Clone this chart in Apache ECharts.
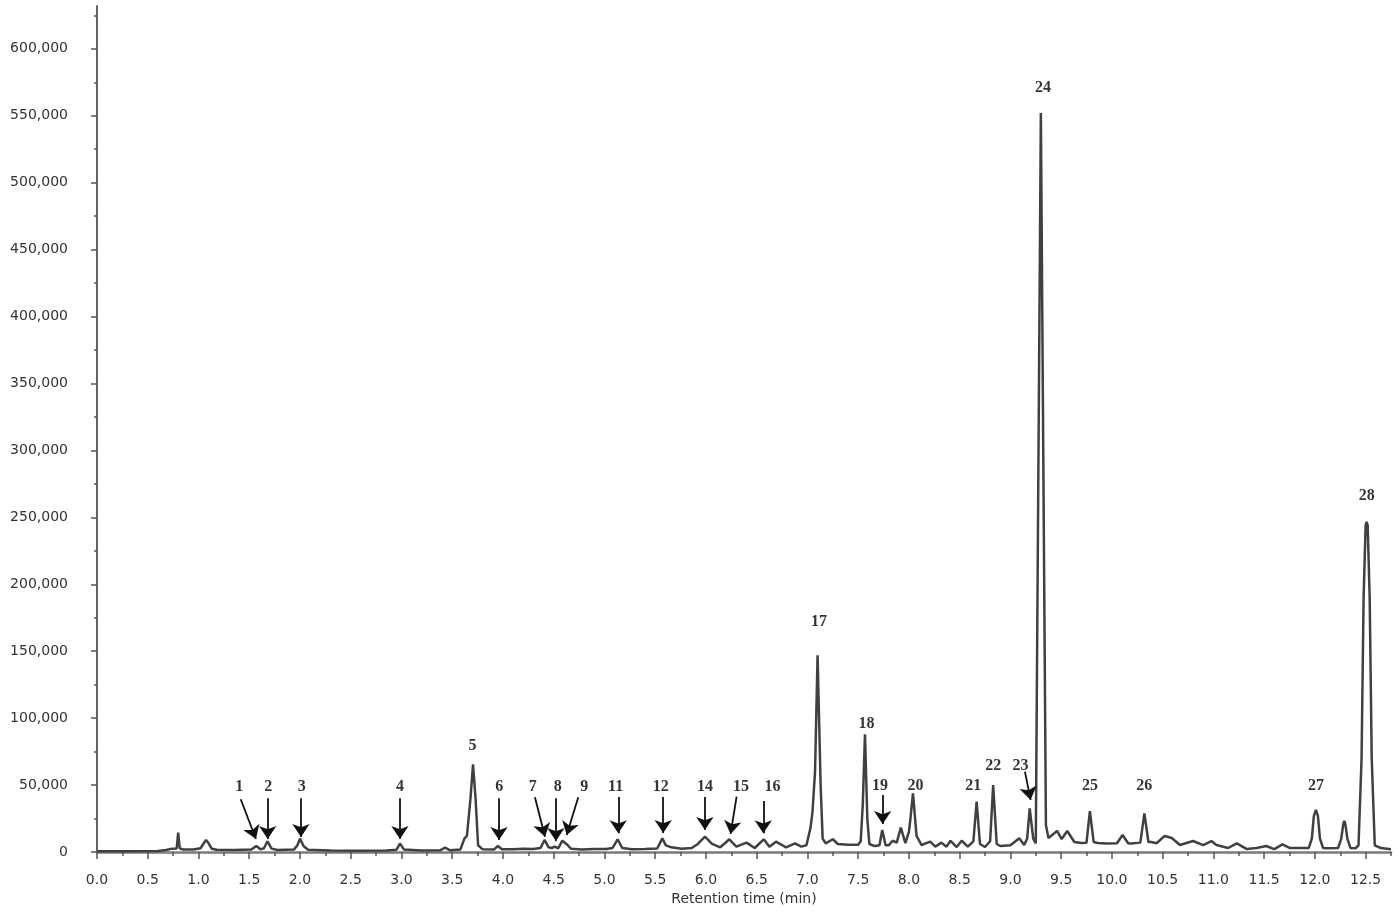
<!DOCTYPE html>
<html><head><meta charset="utf-8">
<script src="https://cdn.jsdelivr.net/npm/echarts@6/dist/echarts.min.js"></script>
<style>html,body{margin:0;padding:0;background:#fff}#c{width:1397px;height:913px}</style>
</head><body><div id="c"></div>
<script>
// Chromatogram trace (retention time in min, intensity in counts)
const retentionTime = [
 0.00,0.30,0.60,0.68,0.74,0.785,0.80,0.815,0.85,0.95,1.02,1.06,1.075,1.085,1.10,1.13,1.18,1.35,1.52,1.57,
 1.61,1.645,1.68,1.72,1.78,1.94,1.975,2.00,2.035,2.08,2.30,2.60,2.85,2.95,2.985,3.025,3.20,3.38,3.43,3.48,
 3.58,3.62,3.645,3.68,3.705,3.73,3.755,3.80,3.91,3.95,3.99,4.10,4.20,4.30,4.37,4.41,4.45,4.48,4.51,4.545,
 4.585,4.625,4.67,4.78,4.90,5.02,5.08,5.13,5.175,5.27,5.40,5.52,5.57,5.605,5.66,5.76,5.86,5.92,5.99,6.06,
 6.14,6.19,6.23,6.30,6.40,6.48,6.57,6.625,6.69,6.79,6.877,6.94,6.99,7.03,7.05,7.075,7.10,7.13,7.15,7.18,
 7.25,7.30,7.40,7.50,7.525,7.545,7.567,7.59,7.61,7.66,7.71,7.737,7.77,7.80,7.84,7.88,7.92,7.965,8.00,8.015,
 8.04,8.075,8.125,8.21,8.26,8.32,8.37,8.41,8.47,8.52,8.58,8.635,8.667,8.70,8.75,8.80,8.83,8.865,8.90,9.00,
 9.087,9.136,9.165,9.19,9.225,9.25,9.30,9.35,9.375,9.46,9.505,9.56,9.63,9.70,9.75,9.783,9.82,9.86,9.95,10.05,
 10.105,10.16,10.19,10.28,10.32,10.36,10.39,10.44,10.52,10.59,10.67,10.80,10.90,10.98,11.03,11.145,11.23,11.33,11.425,11.52,
 11.60,11.68,11.75,11.85,11.94,11.97,11.99,12.01,12.03,12.05,12.08,12.12,12.23,12.26,12.28,12.29,12.30,12.32,12.35,12.40,
 12.43,12.46,12.48,12.50,12.51,12.52,12.54,12.56,12.59,12.65,12.75
];
const intensity = [
 500,500,700,1500,2500,2700,14500,2800,1800,1800,2800,7500,9000,8000,6500,2500,1700,1500,1800,4500,
 2000,2800,8000,2500,1500,1800,5000,10000,4500,1700,1200,1000,1200,1600,6300,1800,1200,1300,3200,1300,
 1800,10000,12000,40000,65500,40000,5000,2000,1800,4500,2000,2000,2500,2200,3000,9000,3500,3000,4000,2800,
 8500,6000,2500,1800,2200,2300,3000,9500,3000,2000,2300,2600,10200,5000,3500,2500,3000,6000,11400,6000,
 3500,6700,9500,4000,7000,3000,9500,4000,7700,3500,6500,4000,5000,18000,30000,60000,147000,50000,10000,6500,
 9500,6000,5500,5500,8000,35000,88000,25000,6000,4500,5000,16400,5000,5000,8400,7000,18200,6700,15000,25000,
 43900,12000,5200,7700,4000,7000,4000,8400,3700,8400,4000,8000,37600,6000,3700,8000,50000,6000,4500,5000,
 10200,5200,10000,32600,10000,6500,552000,20000,10500,15700,9700,15700,7500,6700,7000,30600,7500,6700,6300,6500,
 12700,6500,6300,7000,28900,7500,7500,6500,12000,10500,5200,8200,5200,8200,5200,3000,6500,2200,3000,4500,
 2200,5700,3000,3000,3000,10000,27000,31400,27000,10000,3000,2800,3000,10000,21000,23200,21000,10000,3000,2800,
 5000,70000,190000,244000,246600,244000,190000,70000,5000,3000,2000
];

// Peak number labels
const peakNames = ['1','2','3','4','5','6','7','8','9','11','12','14','15','16','17','18','19','20','21','22','23','24','25','26','27','28'];
const peakLabelTime = [1.402,1.688,2.017,2.985,3.701,3.964,4.293,4.539,4.801,5.110,5.554,5.990,6.345,6.657,7.113,7.583,7.714,8.066,8.633,8.830,9.100,9.320,9.783,10.318,12.010,12.512];
const peakLabelValue = [48800,48800,48800,48800,79200,48800,48800,48800,48800,48800,48800,48800,48800,48800,172100,95400,49300,49300,49300,64500,64500,571000,49300,49300,49300,266100];

// Arrows (start below label, end at arrow tip)
const arrowStartTime  = [1.416,1.682,2.010,2.985,3.961,4.315,4.522,4.742,5.136,5.579,5.990,6.302,6.565,7.741,9.143];
const arrowStartValue = [39400,40100,40100,40100,40100,40900,40100,40900,41100,41100,41100,41300,38100,42600,60000];
const arrowEndTime    = [1.566,1.682,2.010,2.985,3.961,4.414,4.522,4.628,5.136,5.579,5.990,6.243,6.565,7.741,9.199];
const arrowEndValue   = [9700,9700,11200,9700,9000,11400,8200,12700,14000,14200,16400,13500,14000,20900,38900];

// Axis ticks
const yMajorTicks = [0,50000,100000,150000,200000,250000,300000,350000,400000,450000,500000,550000,600000];
const yMinorTicks = [25000,75000,125000,175000,225000,275000,325000,375000,425000,475000,525000,575000,625000];
const xMajorTicks = [0,0.5,1,1.5,2,2.5,3,3.5,4,4.5,5,5.5,6,6.5,7,7.5,8,8.5,9,9.5,10,10.5,11,11.5,12,12.5];
const xMinorTicks = [0.25,0.75,1.25,1.75,2.25,2.75,3.25,3.75,4.25,4.75,5.25,5.75,6.25,6.75,7.25,7.75,8.25,8.75,9.25,9.75,10.25,10.75,11.25,11.75,12.25,12.75];

const chart = echarts.init(document.getElementById('c'), null, {renderer: 'canvas'});
const fmtComma = v => String(Math.round(v)).replace(/\B(?=(\d{3})+(?!\d))/g, ',');
const tickStyle = {color: '#555', width: 1.5};
chart.setOption({
  animation: false,
  backgroundColor: '#ffffff',
  grid: {left: 97, right: 6, top: 6, bottom: 61, containLabel: false},
  xAxis: [
    {type: 'value', min: 0, max: 12.75, interval: 0.5, position: 'bottom', offset: 8,
     axisLine: {show: true, lineStyle: {color: '#7a7a7a', width: 2.5}},
     axisTick: {show: true, length: 7, lineStyle: tickStyle, customValues: xMajorTicks},
     axisLabel: {show: true, customValues: xMajorTicks, formatter: v => v.toFixed(1), fontFamily: 'DejaVu Sans', fontSize: 14, color: '#333', margin: 13},
     splitLine: {show: false},
     name: 'Retention time (min)', nameLocation: 'middle', nameGap: 32,
     nameTextStyle: {fontFamily: 'DejaVu Sans', fontSize: 14, color: '#333'}},
    {type: 'value', min: 0, max: 12.75, interval: 0.25, position: 'bottom', offset: 8,
     axisLine: {show: false},
     axisTick: {show: true, length: 4, lineStyle: tickStyle, customValues: xMinorTicks},
     axisLabel: {show: false}, splitLine: {show: false}}
  ],
  yAxis: [
    {type: 'value', min: 0, max: 632000, interval: 50000, position: 'left', offset: 8,
     axisLine: {show: true, lineStyle: {color: '#666', width: 2}},
     axisTick: {show: true, length: 6, lineStyle: tickStyle, customValues: yMajorTicks},
     axisLabel: {show: true, customValues: yMajorTicks, formatter: fmtComma, fontFamily: 'DejaVu Sans', fontSize: 14, color: '#333', margin: 21},
     splitLine: {show: false}},
    {type: 'value', min: 0, max: 632000, interval: 25000, position: 'left', offset: 8,
     axisLine: {show: false},
     axisTick: {show: true, length: 3, lineStyle: tickStyle, customValues: yMinorTicks},
     axisLabel: {show: false}, splitLine: {show: false}}
  ],
  series: [
    {type: 'line', xAxisIndex: 0, yAxisIndex: 0, showSymbol: false, symbol: 'none',
     data: retentionTime.map((t, i) => [t, intensity[i]]),
     lineStyle: {color: '#404040', width: 2.5}, z: 2, silent: true},
    {type: 'scatter', xAxisIndex: 0, yAxisIndex: 0, symbolSize: 1,
     itemStyle: {color: 'rgba(0,0,0,0)'},
     data: peakLabelTime.map((t, i) => ({name: peakNames[i], value: [t, peakLabelValue[i]]})),
     label: {show: true, position: 'inside', formatter: '{b}', fontFamily: 'Liberation Serif', fontWeight: 'bold', fontSize: 16, color: '#000'},
     z: 4, silent: true},
    {type: 'lines', coordinateSystem: 'cartesian2d', xAxisIndex: 0, yAxisIndex: 0,
     symbol: ['none', 'arrow'], symbolSize: [10, 13],
     data: arrowStartTime.map((t, i) => ({coords: [[t, arrowStartValue[i]], [arrowEndTime[i], arrowEndValue[i]]]})),
     lineStyle: {color: '#111', width: 1.8, opacity: 1, curveness: 0},
     itemStyle: {color: '#111'},
     z: 3, silent: true}
  ]
});
</script></body></html>
